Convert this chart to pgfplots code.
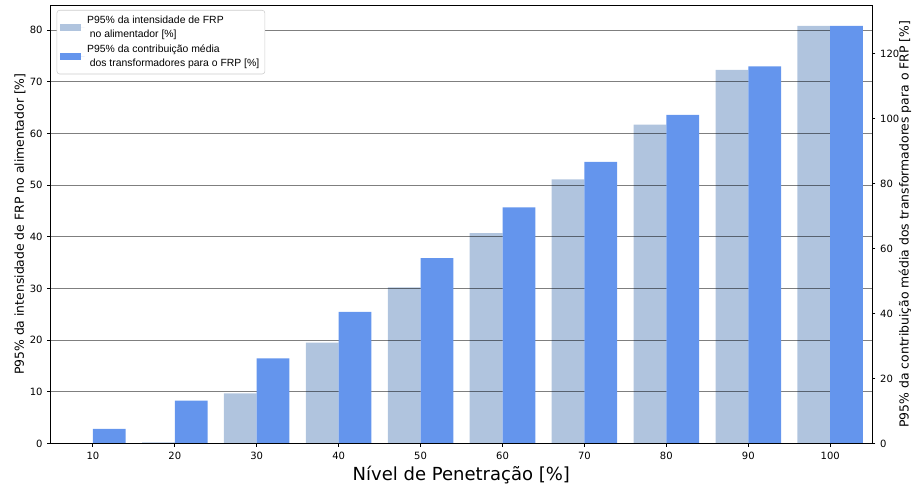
\documentclass[border=0pt]{standalone}
\usepackage{fontspec}
\setmainfont{DejaVu Sans}
\newfontfamily\legfont{Liberation Sans}
\usepackage{pgfplots}
\pgfplotsset{compat=1.18}
\definecolor{lightbar}{RGB}{176,196,222}
\definecolor{darkbar}{RGB}{100,149,237}
\pgfplotsset{
  sqlegend/.style={legend image code/.code={\fill[##1, sharp corners] (0pt,-2.625pt) rectangle (15.5pt,2.625pt); \path (0pt,0pt) -- (18.5pt,0pt);}},
}

\pgfplotstableread{
x   y
10  0
20  0.2
30  9.67
40  19.5
50  30.2
60  40.7
70  51.1
80  61.7
90  72.3
100 80.8
}\lighttable

\pgfplotstableread{
x   y
10  4.5
20  13.2
30  26.15
40  40.5
50  57.0
60  72.6
70  86.6
80  101.1
90  116.0
100 128.5
}\darktable

\begin{document}
\begin{tikzpicture}
\pgfplotsset{
  common/.style={
    scale only axis, width=615.75pt, height=328.7pt,
    xmin=4.85, xmax=105.1, ymin=0,
    tick label style={font=\fontsize{7.5}{9}\selectfont},
    /pgf/number format/assume math mode=true,
    tick align=outside, major tick length=2.6pt,
    tick style={black, line width=0.6pt},
    axis line style={black, line width=0.6pt},
    label style={font=\fontsize{9.3}{11}\selectfont},
  }
}
\begin{axis}[common, name=ax1,
  ymax=84.85,
  ytick={0,10,...,80},
  xtick={10,20,...,100},
  ytick pos=left, xtick pos=bottom,
  ymajorgrids, grid style={black, opacity=0.5, line width=0.75pt},
  axis on top,
  xlabel={Nível de Penetração [\%]},
  xlabel style={font=\fontsize{13.5}{16}\selectfont, at={(axis description cs:0.5,0)}, anchor=base, yshift=-27.7pt},
  ylabel={P95\% da intensidade de FRP no alimentador [\%]},
  ylabel style={at={(axis description cs:-0.0374,0.5)}, anchor=center},
]
\addplot[ybar, bar width=4, bar shift=-2, fill=lightbar, draw=none] table[x=x, y=y] {\lighttable};
\end{axis}
\begin{axis}[common, name=ax2,
  ymax=134.9,
  ytick={0,20,...,120},
  xtick=\empty,
  ytick pos=right, yticklabel pos=right,
  axis on top,
  ylabel={P95\% da contribuição média dos transformadores para o FRP [\%]},
  ylabel style={at={(axis description cs:1.0402,0.5)}, anchor=center},
  legend style={at={(axis description cs:0,1)}, anchor=north west, xshift=4.5pt, yshift=-3.75pt,
    font=\legfont\fontsize{7.8}{10.5}\selectfont, draw=black!20, rounded corners=2pt, fill=white,
    cells={align=left, anchor=west}, inner sep=2.2pt, row sep=0pt},
]
\addlegendimage{fill=lightbar, draw=none, sqlegend}
\addlegendentry{P95\% da intensidade de FRP\\\hspace{0.25em}no alimentador [\%]}
\addplot[ybar, bar width=4, bar shift=2, fill=darkbar, draw=none, sqlegend] table[x=x, y=y] {\darktable};
\addlegendentry{P95\% da contribuição média\\\hspace{0.25em}dos transformadores para o FRP [\%]}
\end{axis}
\pgfresetboundingbox
\path ([shift={(-38pt,-31.3pt)}]ax1.south west) rectangle ([shift={(31.5pt,3.75pt)}]ax1.north east);
\end{tikzpicture}
\end{document}
